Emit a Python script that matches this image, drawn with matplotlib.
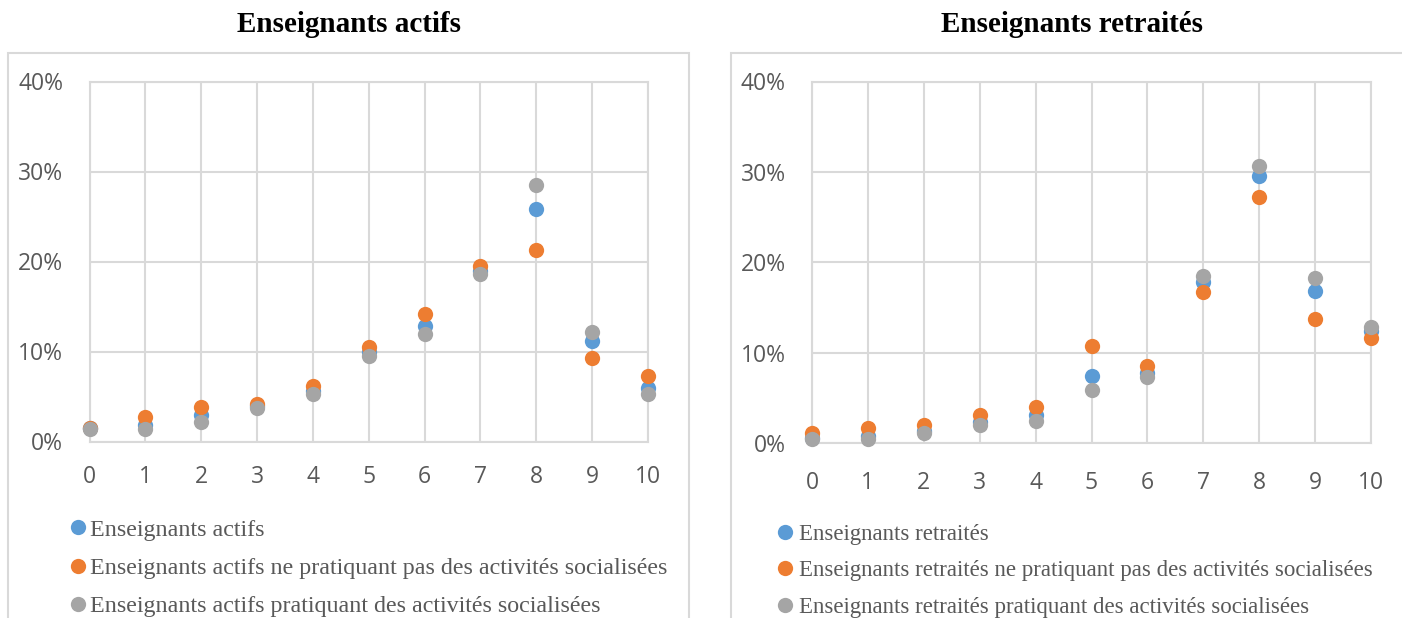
import matplotlib

matplotlib.use("Agg")
import matplotlib.pyplot as plt
from matplotlib.patches import Rectangle
from matplotlib.ticker import PercentFormatter

# scores 0..10, share of respondents (%)
scores = list(range(11))

actifs = [1.5, 1.85, 3.0, 3.9, 5.6, 10.0, 12.85, 18.9, 25.8, 11.2, 5.9]
actifs_non_soc = [1.5, 2.7, 3.8, 4.15, 6.2, 10.55, 14.2, 19.55, 21.25, 9.3, 7.3]
actifs_soc = [1.4, 1.4, 2.2, 3.7, 5.3, 9.5, 11.9, 18.6, 28.55, 12.2, 5.25]

retraites = [0.6, 0.8, 1.35, 2.3, 3.1, 7.45, 7.7, 17.8, 29.55, 16.8, 12.4]
retraites_non_soc = [1.1, 1.65, 2.0, 3.1, 4.0, 10.7, 8.55, 16.7, 27.2, 13.7, 11.6]
retraites_soc = [0.45, 0.45, 1.1, 2.0, 2.4, 5.9, 7.3, 18.5, 30.6, 18.25, 12.85]

titles = ["Enseignants actifs", "Enseignants retraités"]
labels_actifs = [
    "Enseignants actifs",
    "Enseignants actifs ne pratiquant pas des activités socialisées",
    "Enseignants actifs pratiquant des activités socialisées",
]
labels_retraites = [
    "Enseignants retraités",
    "Enseignants retraités ne pratiquant pas des activités socialisées",
    "Enseignants retraités pratiquant des activités socialisées",
]

colors = ["#5B9BD5", "#ED7D31", "#A5A5A5"]
GRID = "#D9D9D9"
TEXT = "#595959"

W, H = 1402, 618
fig = plt.figure(figsize=(W / 100, H / 100), dpi=100)


def px_axes(x0, x1, ytop, ybot):
    return fig.add_axes([x0 / W, 1 - ybot / H, (x1 - x0) / W, (ybot - ytop) / H])


def frame(x0, x1, ytop):
    fig.add_artist(Rectangle((x0 / W, -0.01), (x1 - x0) / W, 1.01 - ytop / H,
                             transform=fig.transFigure, fill=False,
                             edgecolor=GRID, linewidth=1.5))


panels = [
    dict(series=[actifs, actifs_non_soc, actifs_soc], labels=labels_actifs,
         box=(89.5, 648, 81.5, 441.5), frame=(8, 689), title_x=349,
         xpad=17, legend_xy=(71, 519), spacing=0.68, legsize=17.3, textpad=0.19),
    dict(series=[retraites, retraites_non_soc, retraites_soc], labels=labels_retraites,
         box=(812, 1371, 81.5, 443), frame=(731, 1410), title_x=1072,
         xpad=20, legend_xy=(778, 524), spacing=0.67, legsize=16.5, textpad=0.3),
]

for panel, title in zip(panels, titles):
    frame(*panel["frame"], 53)
    ax = px_axes(*panel["box"])
    handles = []
    for vals, col, lab in zip(panel["series"], colors, panel["labels"]):
        (h,) = ax.plot(scores, vals, linestyle="none", marker="o", markersize=11,
                       color=col, markeredgewidth=0, clip_on=False, zorder=3, label=lab)
        handles.append(h)

    ax.set_xlim(0, 10)
    ax.set_ylim(0, 40)
    ax.set_xticks(scores)
    ax.set_yticks([0, 10, 20, 30, 40])
    ax.yaxis.set_major_formatter(PercentFormatter(decimals=0))
    ax.grid(True, color=GRID, linewidth=1.5)
    ax.set_axisbelow(True)
    for s in ax.spines.values():
        s.set_color(GRID)
        s.set_linewidth(1.5)
    ax.tick_params(axis="both", length=0, labelcolor=TEXT, labelsize=16.5)
    ax.tick_params(axis="y", pad=19)
    ax.tick_params(axis="x", pad=panel["xpad"])
    for lab in ax.get_xticklabels() + ax.get_yticklabels():
        lab.set_fontfamily("Open Sans")

    fig.text(panel["title_x"] / W, 1 - 25 / H, title, ha="center", va="center",
             fontsize=21, fontweight="bold", family="Liberation Serif", color="black")

    lx, ly = panel["legend_xy"]
    leg = fig.legend(handles=handles, loc="upper left",
                     bbox_to_anchor=(lx / W, 1 - ly / H), frameon=False,
                     handlelength=0.6, handletextpad=panel["textpad"],
                     labelspacing=panel["spacing"],
                     borderaxespad=0, borderpad=0,
                     prop={"family": "Liberation Serif", "size": panel["legsize"]})
    for t in leg.get_texts():
        t.set_color(TEXT)

fig.savefig("out.png", dpi=100, facecolor="white")
